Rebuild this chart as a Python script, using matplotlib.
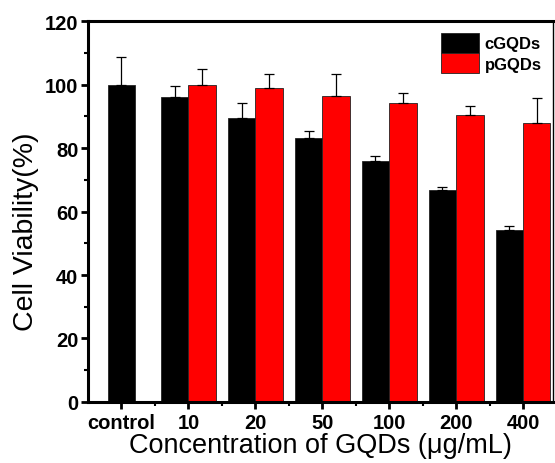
import matplotlib.pyplot as plt
import numpy as np
from matplotlib.ticker import MultipleLocator

plt.rcParams['font.family'] = ['Liberation Sans', 'DejaVu Sans']

categories = ["control", "10", "20", "50", "100", "200", "400"]
cgqds = [100, 96.2, 89.6, 83.3, 76.0, 66.8, 54.3]
cgqds_err = [8.6, 3.2, 4.5, 2.2, 1.4, 0.9, 1.1]
pgqds = [100, 98.8, 96.4, 94.1, 90.4, 87.8]
pgqds_err = [4.9, 4.5, 7.0, 3.3, 2.7, 8.0]

fig = plt.figure(figsize=(5.55, 4.64), dpi=100)
ax = fig.add_axes([0.1586, 0.1315, 0.838, 0.821])

x = np.arange(len(categories))
w = 0.41

# control bar centred, the others sit left of the tick
ax.bar(x[:1], cgqds[:1], width=w, color="black", edgecolor="#222222", linewidth=0.6,
       label="cGQDs")
ax.errorbar(x[:1], cgqds[:1], yerr=[[0], cgqds_err[:1]], fmt="none", ecolor="black",
            elinewidth=0.9, capsize=3.5, capthick=0.9)
ax.bar(x[1:], cgqds[1:], width=-w, align="edge", color="black", edgecolor="#222222",
       linewidth=0.6)
ax.errorbar(x[1:] - w / 2, cgqds[1:], yerr=[[0] * 6, cgqds_err[1:]], fmt="none",
            ecolor="black", elinewidth=0.9, capsize=3.5, capthick=0.9)
ax.bar(x[1:], pgqds, width=w, align="edge", color="#ff0000", edgecolor="#222222",
       linewidth=0.6, label="pGQDs")
ax.errorbar(x[1:] + w / 2, pgqds, yerr=[[0] * 6, pgqds_err], fmt="none",
            ecolor="black", elinewidth=0.9, capsize=3.5, capthick=0.9)

ax.set_xlim(-0.5, 6.45)
ax.set_ylim(0, 120)
ax.set_xticks(x)
ax.set_xticklabels(categories)
ax.xaxis.set_minor_locator(plt.FixedLocator(x[:-1] + 0.5))
ax.yaxis.set_major_locator(MultipleLocator(20))
ax.yaxis.set_minor_locator(MultipleLocator(10))

for s in ax.spines.values():
    s.set_linewidth(2.2)
ax.spines["right"].set_linewidth(1)

ax.tick_params(axis="both", which="major", direction="out", length=5, width=2,
               labelsize=14.5, pad=2)
ax.tick_params(axis="x", which="major", pad=3)
ax.tick_params(axis="both", which="minor", direction="out", length=3, width=1.5)
for lab in ax.get_xticklabels() + ax.get_yticklabels():
    lab.set_fontweight("bold")

ax.set_xlabel("Concentration of GQDs (μg/mL)", fontsize=19.5, labelpad=0)
ax.set_ylabel("Cell Viability(%)", fontsize=20.5)
ax.yaxis.set_label_coords(-0.105, 0.45)

ax.legend(loc="upper right", frameon=False, handlelength=2.3,
          handleheight=1.5, labelspacing=0.0, handletextpad=0.3,
          borderaxespad=0.3, prop={"weight": "bold", "size": 12})

fig.savefig("out.png", dpi=100)
